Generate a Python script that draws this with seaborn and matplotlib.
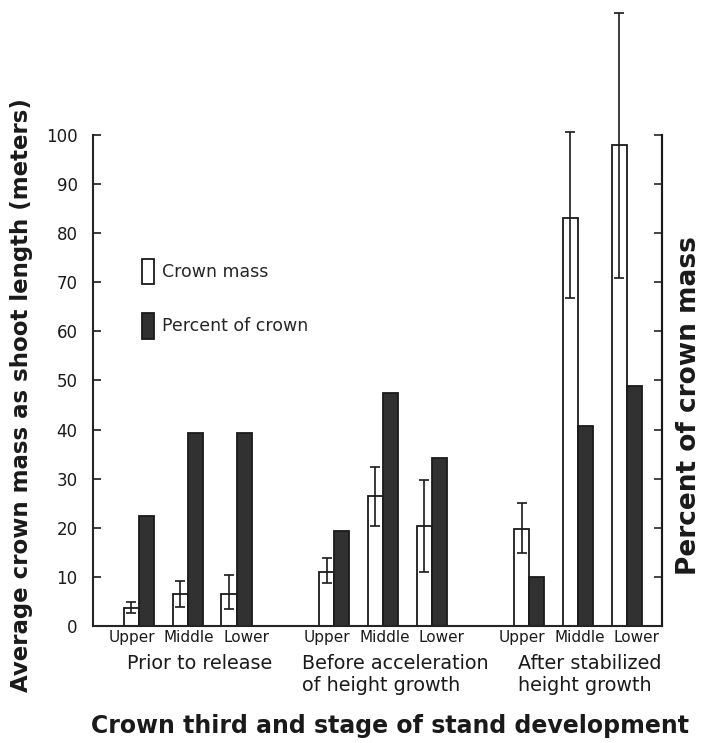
import numpy as np
import pandas as pd
import matplotlib
matplotlib.use("Agg")
import matplotlib.pyplot as plt
from matplotlib.patches import Patch
import seaborn as sns

# ---- data ----
stages = ["Prior to release", "Before acceleration\nof height growth", "After stabilized\nheight growth"]
thirds = ["Upper", "Middle", "Lower"]
series = ["Crown mass", "Percent of crown"]
crown_mass = [3.7, 6.6, 6.6, 11.0, 26.5, 20.4, 19.8, 83.0, 98.0]
mass_low = [2.6, 3.9, 3.5, 8.8, 20.3, 11.0, 14.9, 66.8, 70.9]
mass_high = [4.9, 9.2, 10.4, 13.8, 32.4, 29.7, 25.0, 100.6, 124.8]
percent_crown = [22.4, 39.3, 39.3, 19.3, 47.5, 34.2, 10.0, 40.7, 48.9]
yticks = [0, 10, 20, 30, 40, 50, 60, 70, 80, 90, 100]

sns.set_theme(style="ticks")
plt.rcParams["font.family"] = ["DejaVu Sans"]
INK = "#1a1a1a"

# positions: groups of three with an empty slot between groups
pos = [g * 4 + t for g in range(len(stages)) for t in range(len(thirds))]
rows = []
for i, p in enumerate(pos):
    rows.append({"pos": p, "series": series[0], "value": crown_mass[i]})
    rows.append({"pos": p, "series": series[1], "value": percent_crown[i]})
df = pd.DataFrame(rows)

fig = plt.figure(figsize=(7.04, 7.43), dpi=100)
ax = fig.add_axes([0.132, 0.1575, 0.808, 0.661])

sns.barplot(data=df, x="pos", y="value", hue="series", native_scale=True,
            orient="x", width=0.62, errorbar=None, legend=False,
            palette={series[0]: "white", series[1]: "#313131"},
            edgecolor=INK, linewidth=1.3, ax=ax)

# error bars on crown mass
bw = 0.155
xm = np.array(pos) - bw
cm = np.array(crown_mass)
yerr = np.vstack([cm - np.array(mass_low), np.array(mass_high) - cm])
ax.errorbar(xm, cm, yerr=yerr, fmt="none", ecolor=INK, elinewidth=1.2,
            capsize=3.5, capthick=1.2, clip_on=False, zorder=5)

ax.set_xlim(-0.943, 10.717)
ax.set_ylim(0, 100)
ax.set_yticks(yticks)
ax.tick_params(axis="y", direction="in", length=6, width=1.2, labelsize=12, pad=11, colors=INK)
# tick labels spread slightly wider than the bar slots, as in the original
label_pos = [g * 4 + 1 + (t - 1) * 1.17 + 0.03 for g in range(len(stages)) for t in range(len(thirds))]
ax.set_xticks(label_pos)
ax.set_xticklabels(thirds * len(stages), fontsize=11)
ax.tick_params(axis="x", length=0, pad=3, colors=INK)
for s in ["left", "right", "bottom"]:
    ax.spines[s].set_linewidth(1.5)
    ax.spines[s].set_color(INK)
ax.spines["top"].set_visible(False)
ax.set_xlabel("")
ax.set_ylabel("")

ax2 = ax.twinx()
ax2.set_ylim(0, 100)
ax2.set_yticks(yticks[1:])
ax2.tick_params(axis="y", direction="in", length=6, width=1.2, labelright=False)
ax2.spines["top"].set_visible(False)
ax2.spines["right"].set_linewidth(1.5)
ax2.spines["right"].set_color(INK)
ax2.grid(False)

# axis titles
fig.text(22 / 704, 1 - 395 / 743, "Average crown mass as shoot length (meters)",
         rotation=90, ha="center", va="center", fontsize=16.5, fontweight="bold", color=INK)
fig.text(689 / 704, 1 - 406 / 743, "Percent of crown mass",
         rotation=90, ha="center", va="center", fontsize=19, fontweight="bold", color=INK)
fig.text(390 / 704, 1 - 726 / 743, "Crown third and stage of stand development",
         ha="center", va="center", fontsize=17, fontweight="bold", color=INK)

# group labels
for g, name in enumerate(stages):
    ax.text(g * 4 + 1 + 0.25, -0.058, name, transform=ax.get_xaxis_transform(),
            ha="center", va="top", multialignment="left", fontsize=13.8,
            color=INK, linespacing=1.15)

handles = [Patch(facecolor="white", edgecolor=INK, linewidth=1.3),
           Patch(facecolor="#313131", edgecolor=INK, linewidth=1.3)]
ax.legend(handles, series, loc="upper left", bbox_to_anchor=(0.058, 0.78),
          frameon=False, handlelength=0.7, handleheight=1.9, labelspacing=1.65,
          handletextpad=0.5, fontsize=12.5)

fig.savefig("out.png", dpi=100)
